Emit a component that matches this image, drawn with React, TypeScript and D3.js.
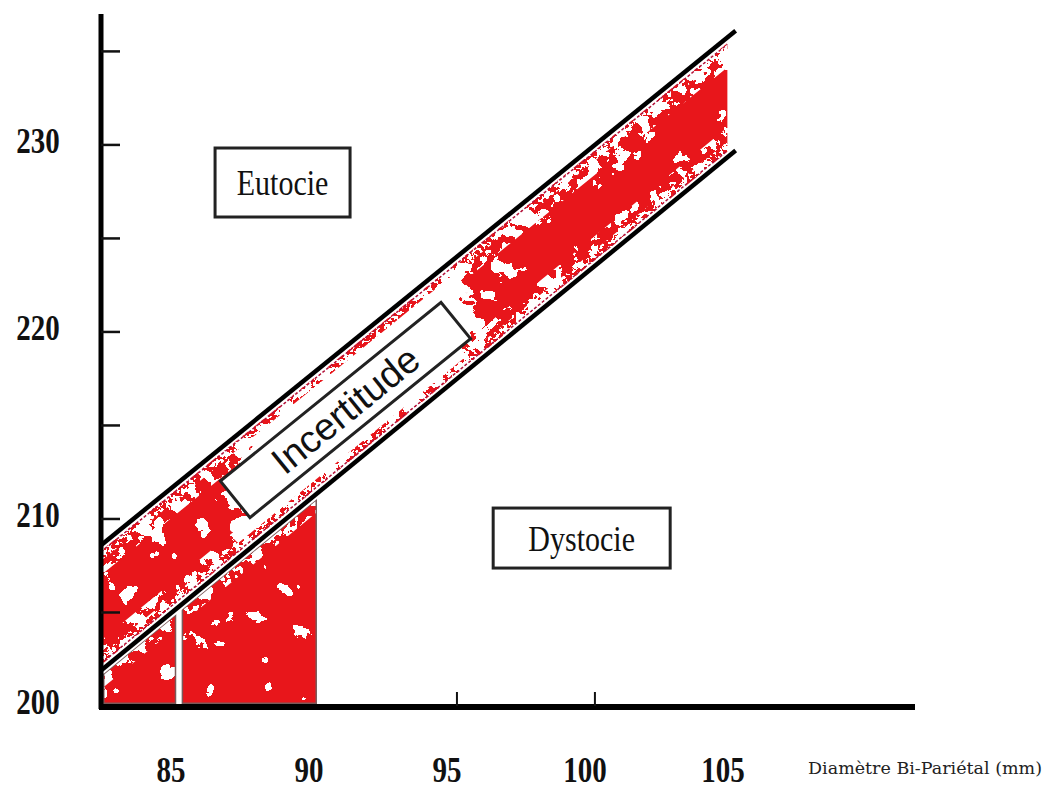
import React from 'react';
import * as d3 from 'd3';

const W = 1062;
const H = 789;

// Axis domains & ticks
const xDomain = [82.1, 111.6];
const yDomain = [200, 237];
const yTickMarks = [205, 210, 215, 220, 225, 230, 235];
const yTickLabels = [200, 210, 220, 230];
const xTickMarks = [95, 100];
const xTickLabels = [85, 90, 95, 100, 105];

// Band of uncertainty (upper & lower boundary lines)
const upperBound = [
  { x: 82.1, y: 208.6 },
  { x: 105.1, y: 236.1 },
];
const lowerBound = [
  { x: 82.1, y: 201.9 },
  { x: 105.1, y: 229.7 },
];
const redEnd = 104.8;
const paleSection = [86.9, 95.0];
const lowerBlocks = [
  [82.2, 84.8],
  [85.05, 89.9],
];
const zoneLabels = [
  { text: 'Eutocie', x: 88.68, y: 227.99, w: 135, h: 69 },
  { text: 'Dystocie', x: 99.52, y: 208.98, w: 177, h: 60 },
];
const bandLabel = { text: 'Incertitude', x: 90.96, y: 215.83, w: 284, h: 47 };
const axisTitle = 'Diamètre Bi-Pariétal (mm)';

const RED = '#e8161b';

function at(bound: { x: number; y: number }[], xv: number) {
  const [a, b] = bound;
  return a.y + ((b.y - a.y) * (xv - a.x)) / (b.x - a.x);
}

export default function App() {
  const x = d3.scaleLinear().domain(xDomain).range([101, 915]);
  const y = d3.scaleLinear().domain(yDomain).range([706, 14]);
  const line = d3
    .line<[number, number]>()
    .x((d) => x(d[0]))
    .y((d) => y(d[1]));
  const poly = (pts: [number, number][]) => line(pts) + 'Z';

  const x0 = xDomain[0];
  const bandPath = poly([
    [x0, at(lowerBound, x0)],
    [redEnd, at(lowerBound, redEnd)],
    [redEnd, at(upperBound, redEnd)],
    [x0, at(upperBound, x0)],
  ]);
  const [g0, g1] = paleSection;
  const holePath = poly([
    [g0, at(lowerBound, g0) - 3],
    [g1, at(lowerBound, g1) - 3],
    [g1, at(upperBound, g1) + 3],
    [g0, at(upperBound, g0) + 3],
  ]);
  const inset = 0.8;
  const innerBand = poly([
    [78, at(lowerBound, 78) + inset],
    [110, at(lowerBound, 110) + inset],
    [110, at(upperBound, 110) - inset],
    [78, at(upperBound, 78) - inset],
  ]);
  const strip = (bound: { x: number; y: number }[], w: number) =>
    poly([
      [78, at(bound, 78)],
      [110, at(bound, 110)],
      [110, at(bound, 110) + w],
      [78, at(bound, 78) + w],
    ]);
  const blockPaths = lowerBlocks.map(([a, b]) =>
    poly([
      [a, 200.15],
      [b, 200.15],
      [b, at(lowerBound, b) - 0.3],
      [a, at(lowerBound, a) - 0.3],
    ])
  );
  const upperLine = line(upperBound.map((d) => [d.x, d.y] as [number, number]))!;
  const lowerLine = line(lowerBound.map((d) => [d.x, d.y] as [number, number]))!;
  const dashOff = 0.36;
  const upperDash = line([
    [x0, at(upperBound, x0) - dashOff],
    [redEnd, at(upperBound, redEnd) - dashOff],
  ])!;
  const lowerDash = line([
    [x0, at(lowerBound, x0) + dashOff],
    [redEnd, at(lowerBound, redEnd) + dashOff],
  ])!;

  const angle =
    (Math.atan2(
      y(upperBound[1].y) - y(upperBound[0].y),
      x(upperBound[1].x) - x(upperBound[0].x)
    ) *
      180) /
    Math.PI;

  const serif = "'Liberation Serif', 'Times New Roman', serif";

  const speckle = (id: string, freq: number, oct: number, seed: number, bias: number) => (
    <filter id={id} filterUnits="userSpaceOnUse" x={0} y={0} width={W} height={H}>
      <feTurbulence type="fractalNoise" baseFrequency={freq} numOctaves={oct} seed={seed} result="n" />
      <feColorMatrix in="n" type="matrix" values={`0 0 0 0 0  0 0 0 0 0  0 0 0 0 0  1 0 0 0 ${bias}`} />
      <feComponentTransfer>
        <feFuncA type="discrete" tableValues="0 1" />
      </feComponentTransfer>
    </filter>
  );

  return (
    <svg
      width={W}
      height={H}
      style={{ position: 'absolute', left: 0, top: 0, background: '#fff' }}
    >
      <defs>
        <filter id="wobble" filterUnits="userSpaceOnUse" x={0} y={0} width={W} height={H}>
          <feTurbulence type="turbulence" baseFrequency="0.035" numOctaves={3} seed={4} result="t" />
          <feDisplacementMap in="SourceGraphic" in2="t" scale={45} xChannelSelector="R" yChannelSelector="G" />
        </filter>
        {speckle('speckleSparse', 0.035, 5, 11, -0.17)}
        {speckle('speckleMid', 0.08, 4, 21, -0.06)}
        {speckle('speckleDense', 0.25, 3, 5, -0.04)}
        <clipPath id="innerBand">
          <path d={innerBand} />
        </clipPath>
        <clipPath id="midStrips">
          <path d={strip(upperBound, -1.6)} />
          <path d={strip(lowerBound, 1.6)} />
          <path d={strip(lowerBound, -1.0)} />
        </clipPath>
        <clipPath id="edgeStrips">
          <path d={strip(upperBound, -0.85)} />
          <path d={strip(lowerBound, 0.85)} />
        </clipPath>
        <mask id="redMask" maskUnits="userSpaceOnUse" x={0} y={0} width={W} height={H}>
          <rect width={W} height={H} fill="black" />
          <path d={bandPath} fill="white" />
          {blockPaths.map((p, i) => (
            <path key={i} d={p} fill="white" />
          ))}
          <g clipPath="url(#innerBand)">
            <path d={holePath} fill="black" filter="url(#wobble)" />
          </g>
          <rect width={W} height={H} fill="black" filter="url(#speckleSparse)" />
          <g clipPath="url(#midStrips)">
            <rect width={W} height={H} fill="black" filter="url(#speckleMid)" />
          </g>
          <g clipPath="url(#edgeStrips)">
            <rect width={W} height={H} fill="black" filter="url(#speckleDense)" />
          </g>
        </mask>
      </defs>

      {/* red textured zone */}
      <rect width={W} height={H} fill={RED} mask="url(#redMask)" />
      {blockPaths.map((p, i) => (
        <path key={'o' + i} d={p} fill="none" stroke="#7a5a5a" strokeWidth={1.5} />
      ))}
      <path d={upperDash} stroke="#b3123a" strokeWidth={1.6} strokeDasharray="3 2" fill="none" />
      <path d={lowerDash} stroke="#b3123a" strokeWidth={1.6} strokeDasharray="3 2" fill="none" />

      {/* band boundary lines */}
      <path d={upperLine} stroke="#fff" strokeWidth={8.5} fill="none" />
      <path d={lowerLine} stroke="#fff" strokeWidth={8.5} fill="none" />
      <path d={upperLine} stroke="#000" strokeWidth={4.5} fill="none" />
      <path d={lowerLine} stroke="#000" strokeWidth={4.5} fill="none" />

      {/* axes */}
      <line x1={x(xDomain[0])} x2={x(xDomain[0])} y1={y(yDomain[1])} y2={y(yDomain[0]) + 3} stroke="#000" strokeWidth={5} />
      <line x1={x(xDomain[0]) - 2} x2={x(xDomain[1])} y1={y(yDomain[0]) + 1} y2={y(yDomain[0]) + 1} stroke="#000" strokeWidth={6} />
      {yTickMarks.map((t) => (
        <line key={t} x1={x(xDomain[0])} x2={x(xDomain[0]) + 19} y1={y(t)} y2={y(t)} stroke="#111" strokeWidth={2.5} />
      ))}
      {xTickMarks.map((t) => (
        <line key={t} x1={x(t)} x2={x(t)} y1={y(yDomain[0])} y2={y(yDomain[0]) - 14} stroke="#111" strokeWidth={2} />
      ))}
      {yTickLabels.map((t) => (
        <text
          key={t}
          transform={`translate(38,${y(t) - 4}) scale(1,1.25)`}
          textAnchor="middle"
          dominantBaseline="central"
          fontFamily={serif}
          fontWeight="bold"
          fontSize={29}
          fill="#111"
        >
          {t}
        </text>
      ))}
      {xTickLabels.map((t) => (
        <text
          key={t}
          transform={`translate(${x(t) - 10},770) scale(1,1.25)`}
          textAnchor="middle"
          dominantBaseline="central"
          fontFamily={serif}
          fontWeight="bold"
          fontSize={29}
          fill="#111"
        >
          {t}
        </text>
      ))}
      <text x={1042} y={774} textAnchor="end" fontFamily="'DejaVu Serif', serif" fontSize={17.5} fill="#222">
        {axisTitle}
      </text>

      {/* zone labels */}
      {zoneLabels.map((z) => (
        <g key={z.text} transform={`translate(${x(z.x)},${y(z.y)})`}>
          <rect x={-z.w / 2} y={-z.h / 2} width={z.w} height={z.h} fill="#fff" stroke="#222" strokeWidth={3} />
          <text
            transform="scale(1,1.2)"
            textAnchor="middle"
            dominantBaseline="central"
            fontFamily={serif}
            fontSize={30}
            fill="#111"
          >
            {z.text}
          </text>
        </g>
      ))}
      <g transform={`translate(${x(bandLabel.x)},${y(bandLabel.y)}) rotate(${angle})`}>
        <rect x={-bandLabel.w / 2} y={-bandLabel.h / 2} width={bandLabel.w} height={bandLabel.h} fill="#fff" stroke="#222" strokeWidth={3} />
        <text textAnchor="middle" dominantBaseline="central" fontFamily="'Liberation Sans', Arial, sans-serif" fontSize={38} fill="#111">
          {bandLabel.text}
        </text>
      </g>
    </svg>
  );
}
